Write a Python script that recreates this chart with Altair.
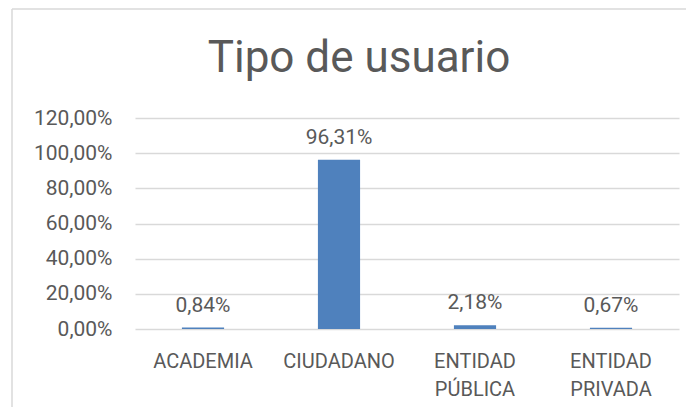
import altair as alt
import pandas as pd

title_text = ["Tipo de usuario"]
categories = ["ACADEMIA", "CIUDADANO", "ENTIDAD PÚBLICA", "ENTIDAD PRIVADA"]
values = [0.84, 96.31, 2.18, 0.67]
y_ticks = [0, 20, 40, 60, 80, 100, 120]

df = pd.DataFrame({
    "cat": categories,
    "val": values,
    "lbl": [f"{v:.2f}".replace(".", ",") + "%" for v in values],
})
tdf = pd.DataFrame({"t": title_text})

FONT = "Roboto"
TXT = "#595959"
GRID = "#d9d9d9"

x_enc = alt.X("cat:N", sort=categories,
              scale=alt.Scale(paddingInner=0.69, paddingOuter=0.345),
              axis=alt.Axis(title=None, labelAngle=0, domain=False, ticks=False,
                            labelFont=FONT, labelFontSize=20, labelColor=TXT,
                            labelPadding=22, labelLineHeight=28,
                            labelExpr="split(datum.label, ' ')"))
y_enc = alt.Y("val:Q", scale=alt.Scale(domain=[0, 120], nice=False),
              axis=alt.Axis(title=None, values=y_ticks, domain=False, ticks=False,
                            grid=True, gridColor=GRID, gridWidth=1.3,
                            labelOverlap=False,
                            labelFont=FONT, labelFontSize=21, labelColor=TXT,
                            labelPadding=23,
                            labelExpr="replace(format(datum.value, '.2f'), '.', ',') + '%'"))

base = alt.Chart(df).encode(x=x_enc, y=y_enc)
bars = base.mark_bar(color="#4f81bd")
labels = base.mark_text(font=FONT, fontSize=21, color=TXT,
                        baseline="alphabetic", dy=-16).encode(text="lbl:N")

title = alt.Chart(tdf).mark_text(font=FONT, fontSize=44, color=TXT,
                                 baseline="alphabetic", align="center").encode(
    text="t:N", x=alt.value(224), y=alt.value(-46))

frame_top = alt.Chart(tdf).mark_rule(color=GRID, strokeWidth=1.5).encode(
    x=alt.value(-123), x2=alt.value(570), y=alt.value(-109))
frame_left = alt.Chart(tdf).mark_rule(color=GRID, strokeWidth=1.5).encode(
    x=alt.value(-123), y=alt.value(-109), y2=alt.value(300))

chart = alt.layer(frame_top, frame_left, bars, labels, title).properties(
    width=544, height=211,
    autosize=alt.AutoSizeParams(type="none"),
    padding={"left": 127, "top": 110, "right": 7, "bottom": 78},
).configure_view(stroke=None)

chart.save("out.html", embed_options={"renderer": "svg", "actions": False})
